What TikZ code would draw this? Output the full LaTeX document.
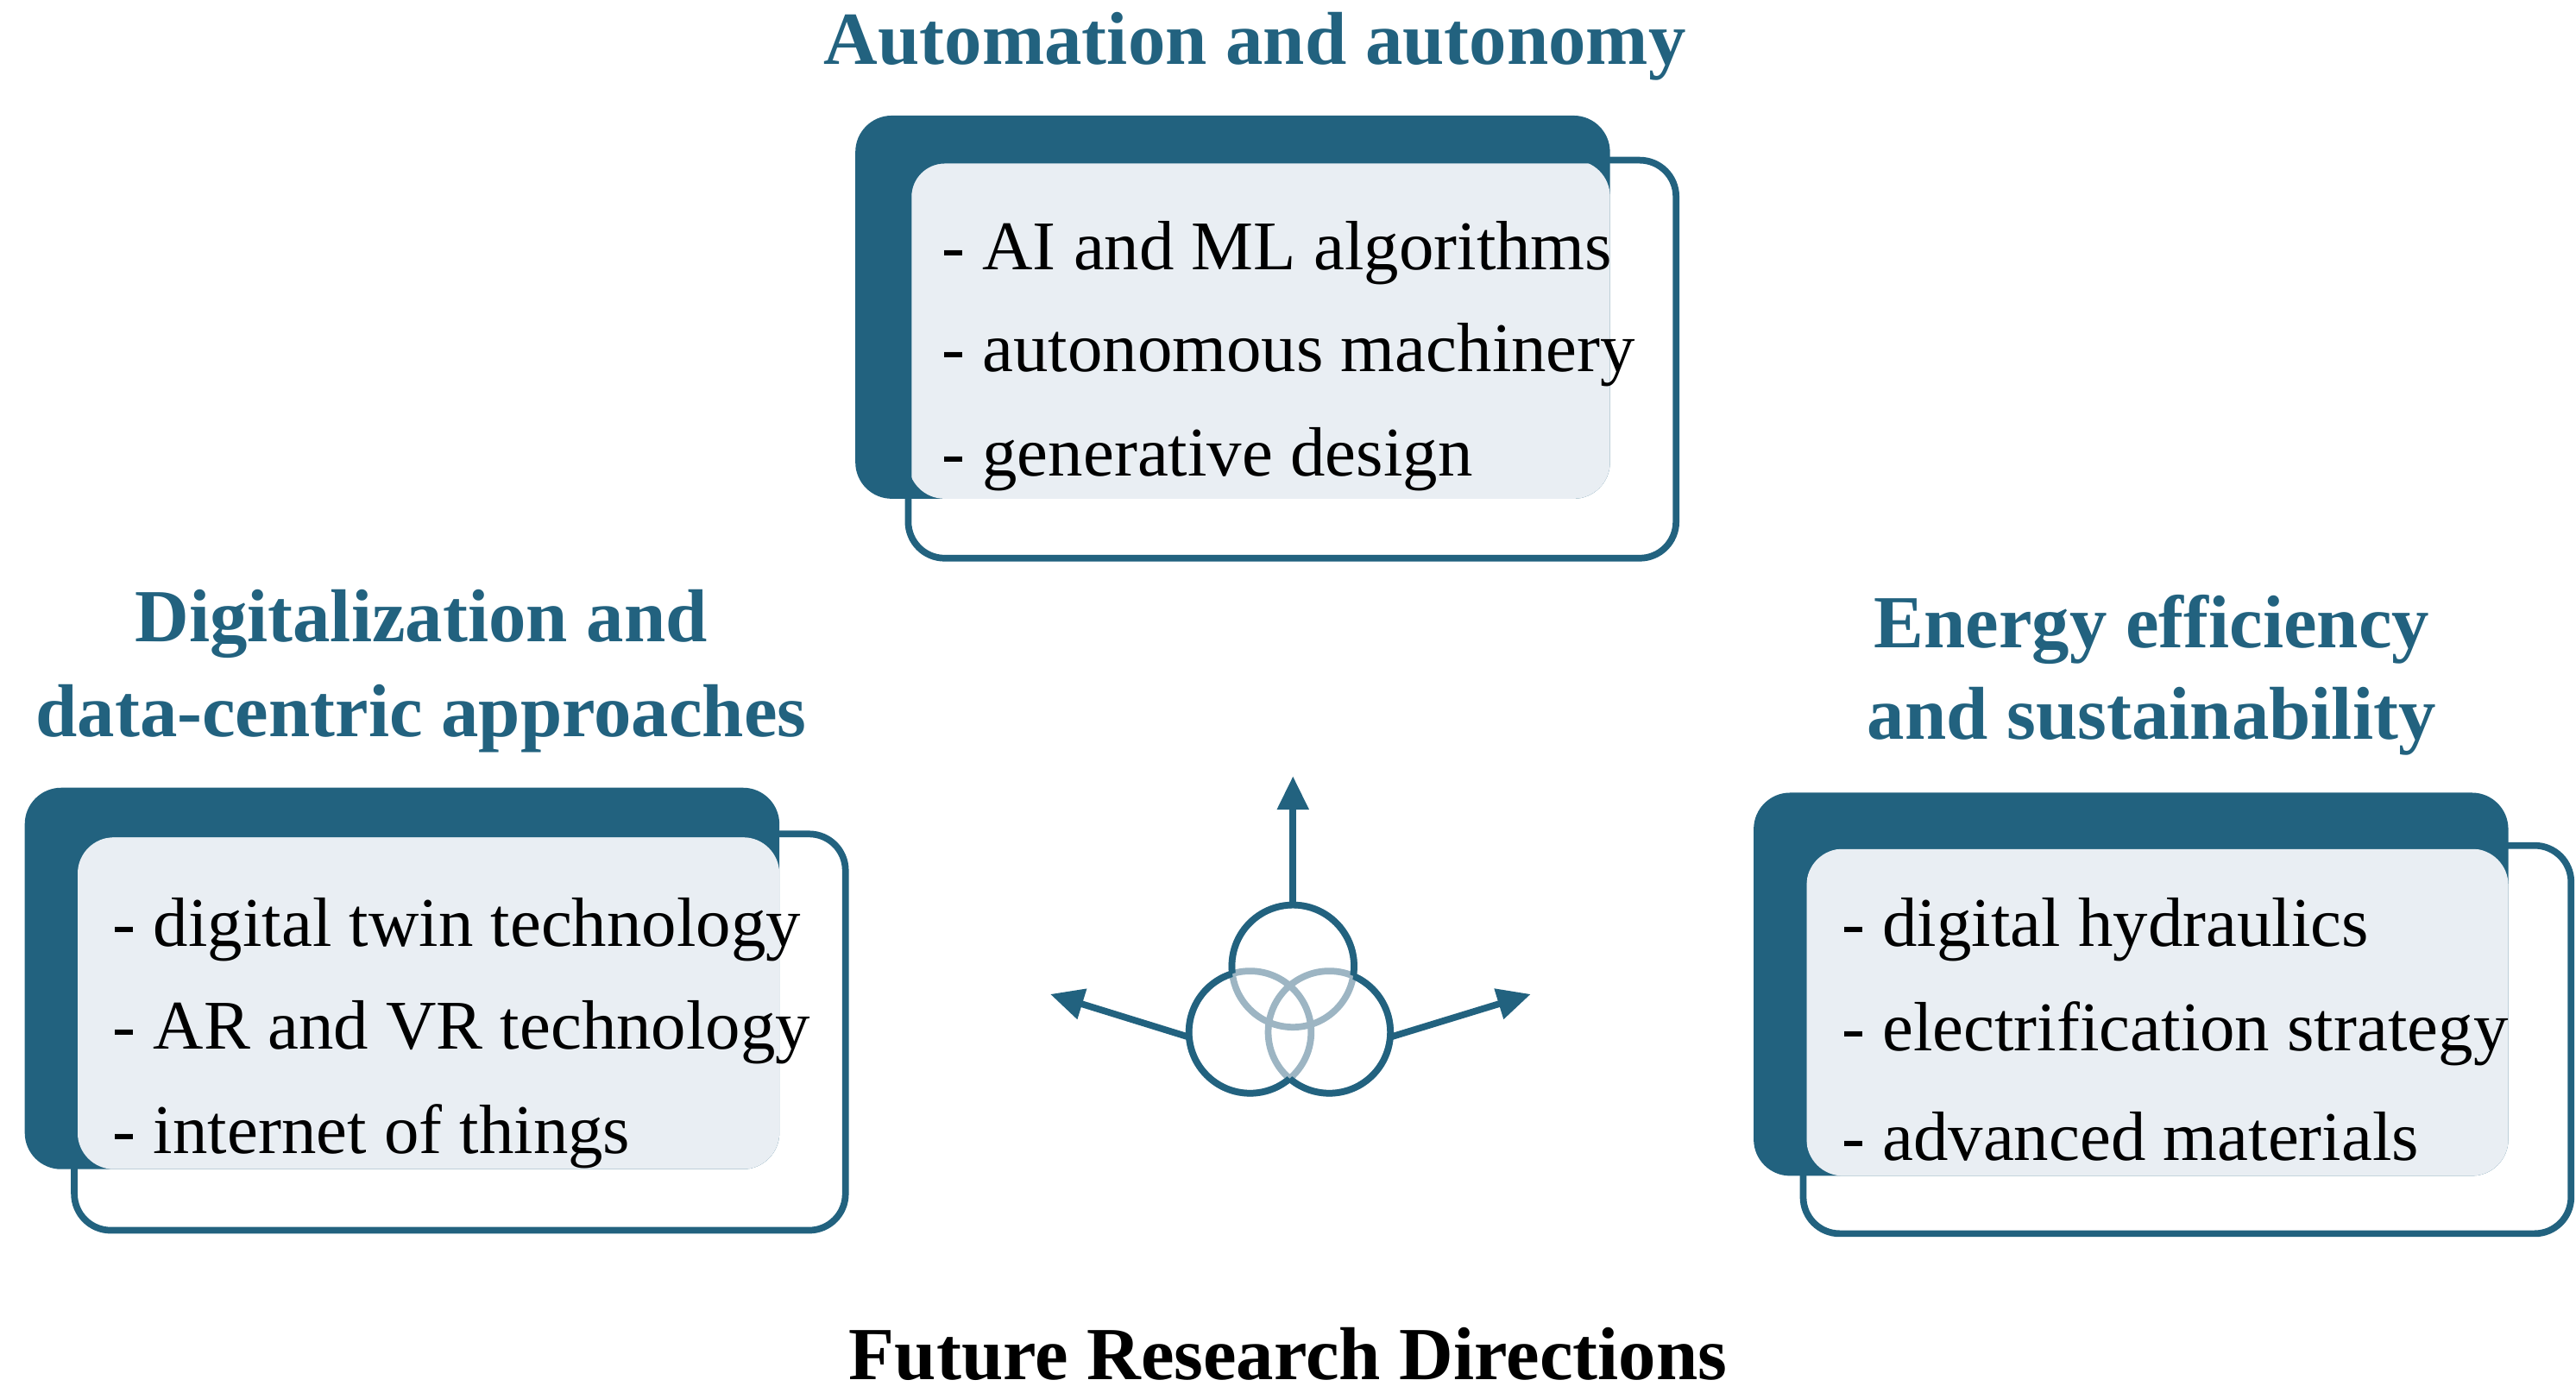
\documentclass[tikz,border=0pt]{standalone}
\usepackage{fontspec}
\setmainfont{Liberation Serif}
\usetikzlibrary{positioning,arrows.meta}
\definecolor{deepblue}{HTML}{22627F}
\definecolor{paleblue}{HTML}{E9EEF3}
\definecolor{softblue}{HTML}{9DB5C3}
\tikzset{
  back/.style={fill=deepblue,rounded corners=12pt},
  shade/.style={fill=paleblue,rounded corners=12pt},
  frame/.style={draw=deepblue,line width=2.2pt,rounded corners=12pt},
  head/.style={text=deepblue,font=\bfseries\fontsize{24.7}{28}\selectfont,inner sep=0pt},
  item/.style={anchor=west,font=\fontsize{23}{27}\selectfont,inner sep=0pt},
  ring/.style={draw=deepblue,line width=2.2pt},
  pointer/.style={draw=deepblue,line width=2.2pt,-{Triangle[length=11pt,width=10pt]}}
}
\begin{document}
\begin{tikzpicture}[x=0.019135cm,y=-0.019135cm]
\useasboundingbox (0,0) rectangle (1560,847);

% top block
\fill[back] (518,70) rectangle (975,302);
\fill[shade] (550,97) rectangle (975,302);
\draw[frame] (550,97) rectangle (1015,338);
\node[head] (tauto) at (760,28) {Automation and autonomy};
\node[item] (t1) at (570,153) {- AI and ML algorithms};
\node[item] (t2) at (570,215) {- autonomous machinery};
\node[item] (t3) at (570,278) {- generative design};

% left block
\fill[back] (15,477) rectangle (472,708);
\fill[shade] (47,507) rectangle (472,708);
\draw[frame] (45,505) rectangle (512,745);
\node[head] (tdig1) at (255,378) {Digitalization and};
\node[head] (tdig2) at (255,435) {data-centric approaches};
\node[item] (l1) at (68,563) {- digital twin technology};
\node[item] (l2) at (68,625) {- AR and VR technology};
\node[item] (l3) at (68,688) {- internet of things};

% right block
\fill[back] (1062,480) rectangle (1519,712);
\fill[shade] (1094,514) rectangle (1519,712);
\draw[frame] (1092,512) rectangle (1557,747);
\node[head] (teng1) at (1303,381) {Energy efficiency};
\node[head] (teng2) at (1303,437) {and sustainability};
\node[item] (r1) at (1115,563) {- digital hydraulics};
\node[item] (r2) at (1115,626) {- electrification strategy};
\node[item] (r3) at (1115,688) {- advanced materials};

% icon
\coordinate (ct) at (783,585);
\coordinate (cl) at (757,625);
\coordinate (cr) at (805,625);
\draw[ring,draw=softblue] (ct) circle (37) (cl) circle (37) (cr) circle (37);
\begin{scope}[even odd rule]
  \clip (600,450) rectangle (960,700) (cl) circle (37);
  \clip (600,450) rectangle (960,700) (cr) circle (37);
  \draw[ring] (ct) circle (37);
\end{scope}
\begin{scope}[even odd rule]
  \clip (600,450) rectangle (960,700) (ct) circle (37);
  \clip (600,450) rectangle (960,700) (cr) circle (37);
  \draw[ring] (cl) circle (37);
\end{scope}
\begin{scope}[even odd rule]
  \clip (600,450) rectangle (960,700) (ct) circle (37);
  \clip (600,450) rectangle (960,700) (cl) circle (37);
  \draw[ring] (cr) circle (37);
\end{scope}
\coordinate (pt) at (783,470);
\coordinate (pl) at (636,602);
\coordinate (pr) at (927,602);
\coordinate (st) at (783,548);
\coordinate (sl) at (720,628);
\coordinate (sr) at (842,628);
\draw[pointer] (st) -- (pt);
\draw[pointer] (sl) -- (pl);
\draw[pointer] (sr) -- (pr);

\node[font=\bfseries\fontsize{24.7}{28}\selectfont,inner sep=0pt] (tfut) at (780,820) {Future Research Directions};
\end{tikzpicture}
\end{document}
